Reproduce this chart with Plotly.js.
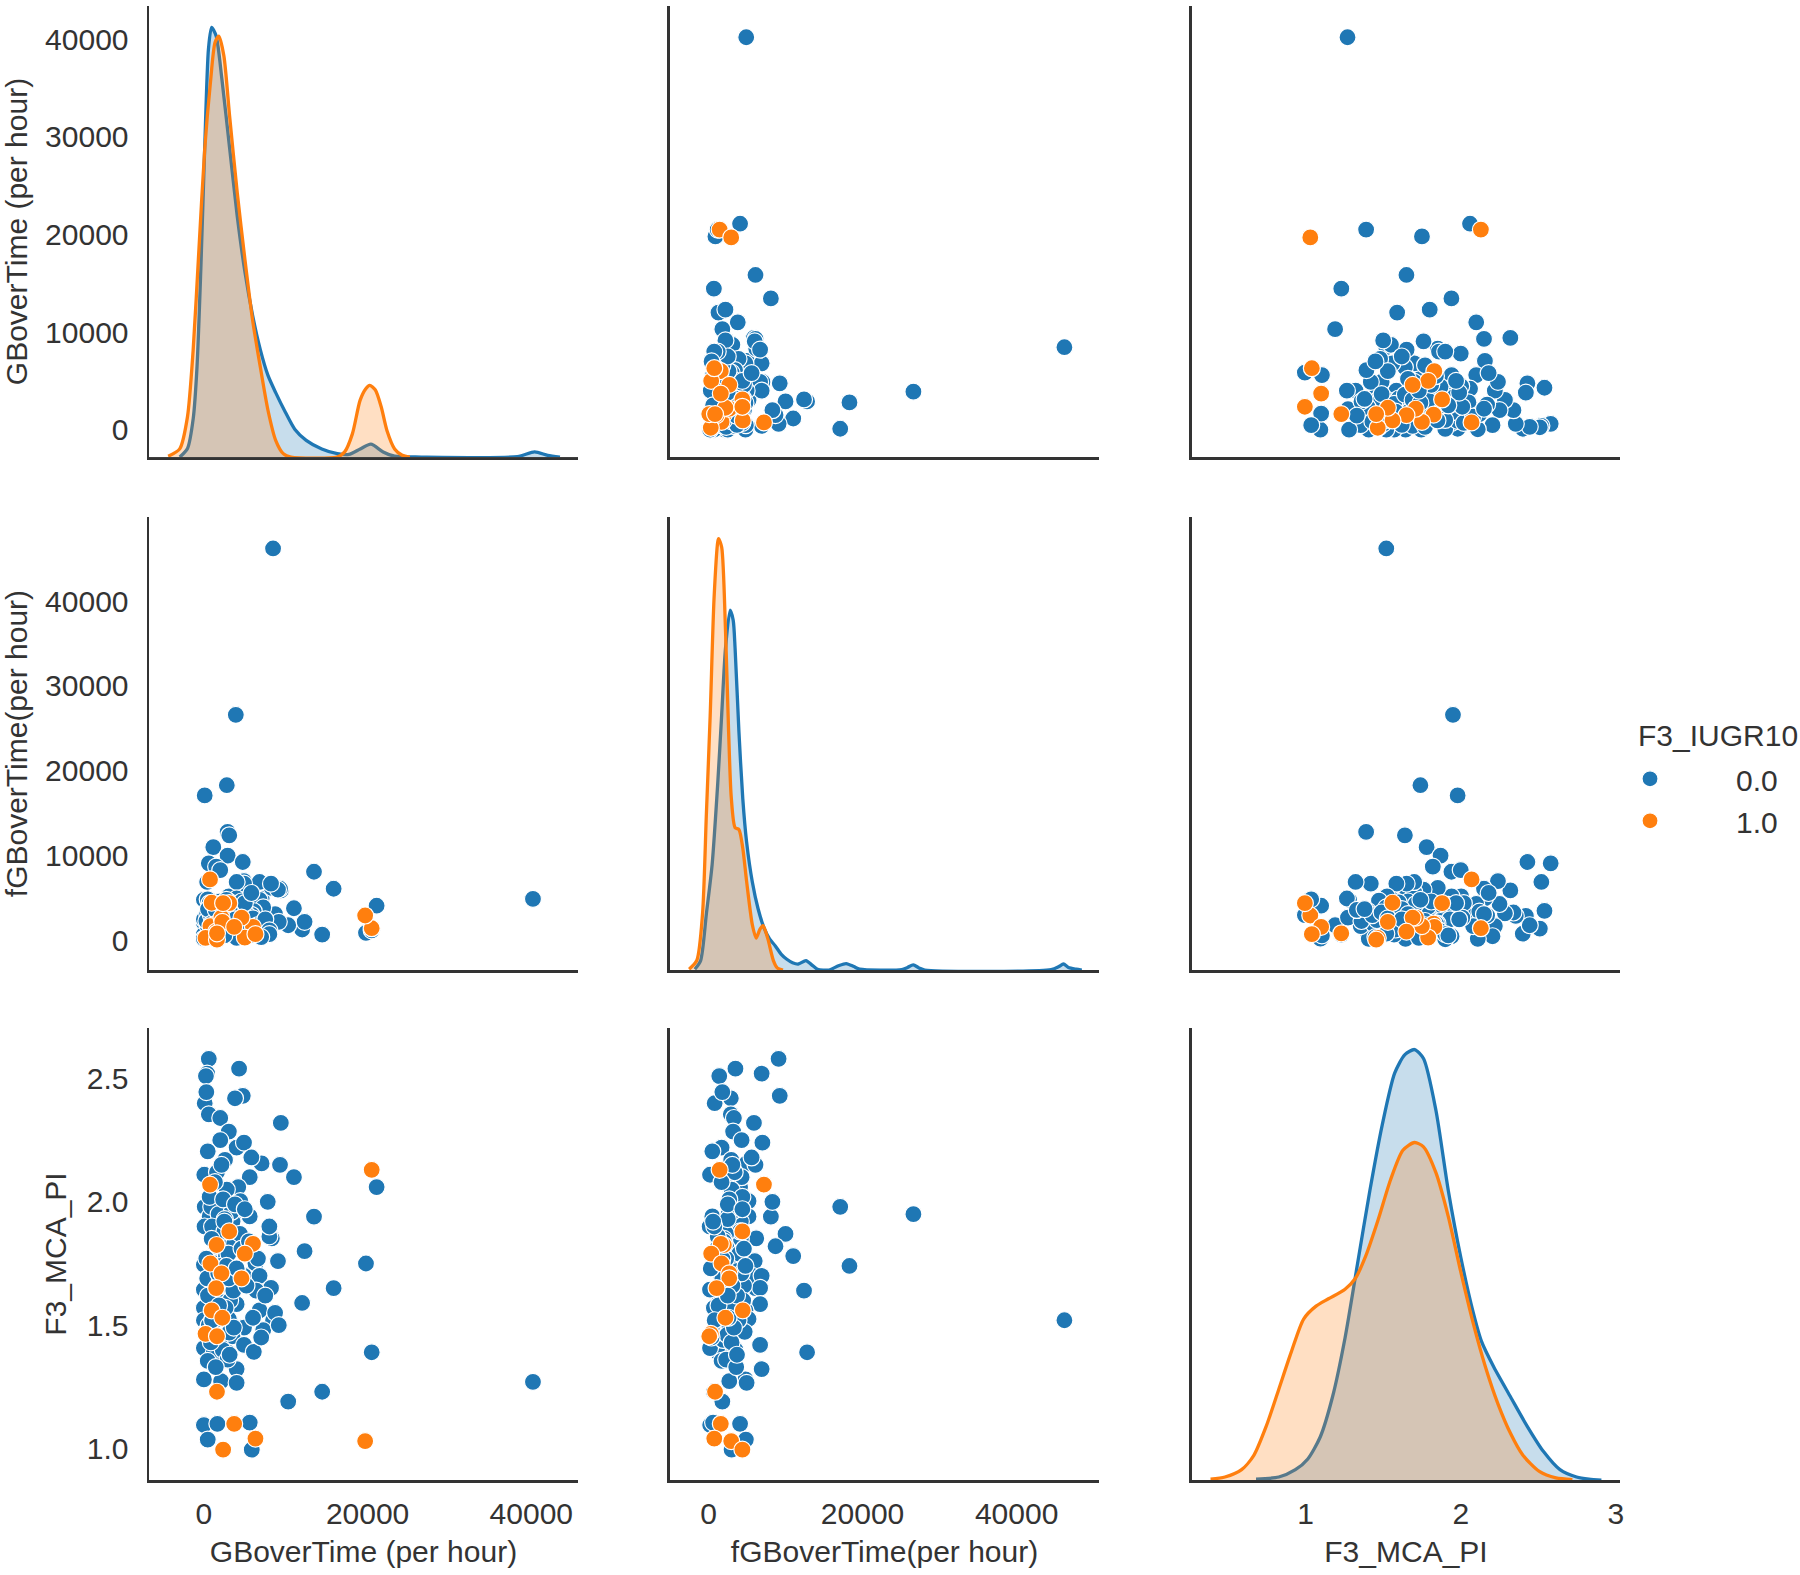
<!DOCTYPE html>
<html><head><meta charset="utf-8">
<script src="https://cdn.plot.ly/plotly-3.0.1.min.js"></script>
<style>html,body{margin:0;padding:0;background:#fff}#chart{width:1800px;height:1575px}</style>
</head><body><div id="chart"></div>
<script>
// ---------------- DATA ----------------
const varNames = ['GBoverTime (per hour)', 'fGBoverTime(per hour)', 'F3_MCA_PI'];
const hueTitle = 'F3_IUGR10';
const hueLevels = ['0.0', '1.0'];

// class 0.0 (blue)
const blueGB = [
 40200, 8450, 3900, 2800, 100, 21100, 19800, 20500, 15850, 14450,
 13450, 12000, 11000, 12300, 10300, 9400, 2900, 3100, 1150, 2900,
 4750, 600, 1500, 2000, 400, 4300, 250, 3800, 100, 300,
 600, 2000, 3050, 2000, 4000, 470, 2580, 4900, 7050, 9300,
 5600, 4200, 50, 4450, 700, 3850, 5600, 7800, 80, 1900,
 8300, 3050, 6300, 9050, 0, 1200, 4900, 6800, 8200, 0,
 3050, 6400, 0, 1900, 4000, 6800, 8700, 0, 3050, 4900,
 7250, 9150, 250, 3500, 0, 1900, 4900, 6100, 1200, 470,
 2600, 4000, 0, 2100, 4000, 0, 1650, 5600, 470, 5850,
 800, 1300, 1700, 2200, 2600, 3100, 3500, 900, 1500, 2000,
 2400, 2800, 3300, 600, 1100, 1800, 2300, 2700, 3200, 3700,
 400, 1000, 1400, 1900, 2500, 2900, 3400, 4100, 700, 1200,
 1600, 2100, 2650, 3000, 3600, 4400, 300, 850, 1350, 1750,
 2150, 2550, 3050, 3650, 4600, 500, 950, 1450, 1850, 2350,
 2750, 3150, 3800, 5200, 5500, 6000, 5000, 6600, 7500, 8000,
 5800, 8000, 7000, 4000, 2500, 1000
];
const blueFGB = [
 4900, 46200, 26600, 18300, 17100, 4100, 900, 1200, 6100, 700,
 8100, 1300, 3800, 2200, 1800, 5900, 12800, 12400, 11000, 10000,
 9250, 9100, 8700, 8300, 6900, 3500, 1400, 2900, 800, 1800,
 2900, 3300, 3200, 4300, 1700, 500, 2950, 7000, 4950, 6100,
 4300, 2700, 200, 5200, 500, 3200, 5200, 2700, 150, 2400,
 6200, 1100, 4200, 6000, 2100, 1500, 5700, 6900, 6700, 200,
 2700, 3400, 700, 3600, 6700, 4800, 3100, 2500, 5200, 4000,
 3900, 2200, 4700, 1350, 200, 2900, 6700, 3450, 3200, 1700,
 2600, 6900, 4800, 2700, 4950, 220, 4100, 600, 4850, 3000,
 2200, 2800, 3300, 2300, 3800, 2500, 4200, 3500, 1900, 4600,
 1600, 3000, 3600, 2700, 4200, 2600, 3500, 2100, 4500, 1900,
 3200, 1500, 3900, 2000, 4100, 2300, 3100, 3800, 4400, 2400,
 3400, 1700, 2900, 4000, 2800, 2300, 2300, 3000, 1700, 4300,
 3100, 2500, 1800, 3300, 4600, 3700, 2000, 3600, 1300, 2700,
 4800, 3700, 2500, 3100, 2000, 2600, 4400, 1800, 2500, 1200,
 5600, 750, 400, 300, 600, 800
];
const bluePI = [
 1.27, 1.52, 1.95, 1.74, 1.98, 2.06, 1.75, 1.39, 1.65, 1.23,
 1.94, 1.59, 2.10, 1.80, 1.19, 2.32, 1.39, 1.64, 1.78, 1.87,
 2.43, 2.58, 1.82, 2.00, 2.52, 2.54, 2.51, 2.42, 2.40, 2.445,
 2.355, 2.34, 2.285, 2.25, 2.22, 2.205, 2.17, 2.24, 2.156, 2.15,
 2.10, 2.06, 2.11, 2.003, 1.941, 1.956, 1.941, 2.00, 1.90, 1.88,
 1.852, 1.81, 1.75, 1.76, 1.745, 1.71, 1.70, 1.70, 1.651, 1.644,
 1.63, 1.64, 1.57, 1.60, 1.585, 1.56, 1.55, 1.52, 1.525, 1.49,
 1.48, 1.50, 1.473, 1.455, 1.407, 1.43, 1.42, 1.392, 1.387, 1.355,
 1.36, 1.322, 1.28, 1.273, 1.266, 1.095, 1.10, 1.105, 1.036, 0.995,
 1.62, 1.75, 1.55, 1.82, 1.68, 1.47, 1.92, 1.98, 1.44, 1.66,
 1.58, 2.05, 1.73, 1.50, 1.85, 1.95, 1.40, 1.78, 1.60, 1.83,
 1.69, 1.90, 1.52, 1.67, 1.88, 1.36, 1.96, 1.72, 2.02, 1.46,
 2.12, 1.74, 1.57, 1.79, 1.64, 1.87, 1.77, 1.43, 2.08, 1.71,
 2.15, 1.93, 1.69, 1.49, 1.81, 1.62, 1.85, 1.33, 1.58, 2.01,
 1.74, 1.38, 1.99, 1.66, 1.84, 1.53, 1.97, 1.77, 1.62, 1.86,
 2.18, 1.90, 1.45, 1.73, 1.92, 1.52
];

// class 1.0 (orange)
const orangeGB  = [20500, 19700, 750, 3100, 1550, 6000, 5000, 800, 2150, 4600, 1500, 950, 2250, 200, 1600, 1600, 3700, 6300, 2350];
const orangeFGB = [1450, 2950, 7200, 4400, 2000, 1600, 350, 1700, 2700, 2700, 1050, 4450, 2200, 300, 100, 850, 1600, 750, 4400];
const orangePI  = [2.13, 1.03, 2.07, 1.88, 1.825, 1.83, 1.79, 1.75, 1.71, 1.69, 1.65, 1.56, 1.53, 1.465, 1.455, 1.23, 1.10, 1.04, 0.995];

// density curves on the diagonal (relative density)
const kdeGBx_blue = [-2950, -2000, -1300, -840, -370, 100, 560, 940, 1500, 2200, 3140, 4080, 5020, 5950, 6890, 7830, 8770, 9940, 11100, 12500, 14400, 16300, 17700, 19100, 20400, 21900, 23300, 26600, 38300, 40400, 42000, 43500];
const kdeGBy_blue = [0, 2, 9, 21, 44, 72, 95, 100, 98, 88, 72, 56, 43, 33, 25, 19, 15, 10.5, 6.5, 3.9, 1.9, 0.8, 0.6, 1.9, 3.0, 1.2, 0.2, 0, 0.1, 1.2, 0.4, 0];
const kdeGBx_orange = [-4360, -2950, -2010, -1310, -610, 100, 800, 1360, 1830, 2440, 3140, 4080, 5020, 5950, 6890, 7830, 8770, 9700, 10640, 16270, 17200, 18140, 19080, 19780, 20250, 20950, 21660, 22360, 23300, 24230, 25170];
const kdeGBy_orange = [0.2, 1.9, 9.3, 24.9, 48.2, 71.6, 87.2, 96.5, 98, 93.4, 79.4, 61.5, 45.9, 31.9, 21, 10.9, 3.9, 0.8, 0, 0, 1.2, 5.4, 13.2, 15.9, 16.7, 15.6, 11.7, 6.2, 1.9, 0.4, 0];

const kdeFGBx_blue = [-1768, -1022, -276, 470, 1216, 1714, 2211, 2808, 3205, 3454, 3951, 4449, 4946, 5692, 6438, 7184, 7930, 8676, 9422, 10168, 10914, 11660, 12654, 13400, 14146, 15638, 16881, 17876, 18870, 19616, 25087, 25833, 26579, 27325, 28070, 44481, 45476, 46073, 46719, 47714, 48460];
const kdeFGBy_blue = [0.2, 2.2, 13, 24.4, 43.7, 59.2, 74.6, 83.4, 81.1, 74.6, 55.3, 39.8, 29.7, 20.4, 14.2, 9.9, 7.2, 5.6, 3.7, 2.5, 1.7, 1.4, 2.2, 1.2, 0.2, 0, 1.0, 1.5, 0.8, 0.2, 0.1, 0.6, 1.2, 0.5, 0, 0.1, 0.8, 1.4, 0.6, 0.2, 0];
const kdeFGBx_orange = [-2513, -1519, -773, -276, 222, 719, 1216, 1316, 1714, 2211, 2609, 2957, 3454, 3951, 4449, 4946, 5692, 6189, 6687, 7084, 7681, 8427, 8924, 9670];
const kdeFGBy_orange = [0.2, 2.2, 13, 36, 59, 86, 99.4, 100, 98, 78.7, 55.5, 40, 33, 32.6, 28.3, 20.6, 10.5, 7.4, 9.5, 10.3, 7.4, 2.2, 0.5, 0];

const kdePIx_blue = [0.68, 0.827, 0.934, 1.014, 1.094, 1.174, 1.254, 1.334, 1.414, 1.494, 1.574, 1.64, 1.702, 1.76, 1.84, 1.92, 2.0, 2.08, 2.134, 2.214, 2.32, 2.427, 2.534, 2.64, 2.747, 2.827, 2.907];
const kdePIy_blue = [0.2, 0.7, 2.4, 4.9, 10, 19.4, 33, 50.1, 67.2, 82.5, 94.5, 98.8, 100, 97.9, 85.9, 67.2, 51.8, 39, 32.2, 26.2, 19.4, 12.6, 6.6, 2.4, 0.7, 0.2, 0];
const kdePIx_orange = [0.387, 0.48, 0.587, 0.667, 0.747, 0.827, 0.907, 0.987, 1.067, 1.147, 1.254, 1.32, 1.387, 1.467, 1.547, 1.627, 1.702, 1.76, 1.84, 1.92, 2.0, 2.08, 2.16, 2.24, 2.32, 2.40, 2.507, 2.614, 2.72];
const kdePIy_orange = [0.2, 0.7, 2.4, 5.8, 12.6, 21.1, 29.7, 37.4, 40.4, 42.1, 44.3, 46.8, 52, 60.4, 69.7, 76.6, 78.4, 77.4, 71.4, 61.2, 48.4, 36.5, 26.2, 17.7, 10.9, 5.8, 2.0, 0.5, 0.1];

// axis ticks
const xTickVals = [[0, 20000, 40000], [0, 20000, 40000], [1, 2, 3]];
const xTickText = [['0', '20000', '40000'], ['0', '20000', '40000'], ['1', '2', '3']];
const yTickVals = [[0, 10000, 20000, 30000, 40000], [0, 10000, 20000, 30000, 40000], [1.0, 1.5, 2.0, 2.5]];
const yTickText = [['0', '10000', '20000', '30000', '40000'], ['0', '10000', '20000', '30000', '40000'], ['1.0', '1.5', '2.0', '2.5']];

// ---------------- LAYOUT / DRAW ----------------
const C0 = '#1f77b4', C1 = '#ff7f0e';
const F0 = 'rgba(31,119,180,0.25)', F1 = 'rgba(255,127,14,0.25)';
const FONT = '"Liberation Sans", Arial, sans-serif';
const TXT = '#333333';

const xDom = [[0.0828, 0.3211], [0.3722, 0.6106], [0.6622, 0.9000]];
const yDom = [[0.7098, 0.9962], [0.3841, 0.6717], [0.0603, 0.3473]];
const xRanges = [[-6700, 45700], [-5000, 50700], [0.267, 3.027]];
const yRanges = [[-2800, 43400], [-3480, 49900], [0.872, 2.705]];

const blueVars = [blueGB, blueFGB, bluePI];
const orangeVars = [orangeGB, orangeFGB, orangePI];
const kde = [
  [[kdeGBx_blue, kdeGBy_blue], [kdeGBx_orange, kdeGBy_orange]],
  [[kdeFGBx_blue, kdeFGBy_blue], [kdeFGBx_orange, kdeFGBy_orange]],
  [[kdePIx_blue, kdePIy_blue], [kdePIx_orange, kdePIy_orange]]
];

const layout = {
  width: 1800, height: 1575,
  margin: {l: 0, r: 0, t: 0, b: 0},
  paper_bgcolor: '#ffffff', plot_bgcolor: '#ffffff',
  font: {family: FONT, size: 30, color: TXT},
  showlegend: true,
  legend: {
    x: 0.8689, y: 0.522, xanchor: 'left', yanchor: 'top',
    font: {size: 30, color: TXT},
    itemwidth: 162, tracegroupgap: 0,
    bgcolor: 'rgba(0,0,0,0)'
  },
  annotations: [{
    text: hueTitle, xref: 'paper', yref: 'paper',
    x: 0.9089, y: 0.5327, xanchor: 'left', yanchor: 'middle',
    showarrow: false, font: {family: FONT, size: 30, color: TXT}
  }]
};
const traces = [];

function axName(prefix, k) { return prefix + (k === 1 ? '' : k); }

for (let r = 0; r < 3; r++) {
  for (let c = 0; c < 3; c++) {
    const k = r * 3 + c + 1;
    const xa = axName('xaxis', k), ya = axName('yaxis', k);
    const xr = axName('x', k), yr = axName('y', k);
    const isDiag = r === c;
    const xAx = {
      domain: xDom[c], range: xRanges[c], anchor: yr,
      showline: true, linecolor: '#333333', linewidth: 2.5,
      showgrid: false, zeroline: false, fixedrange: true,
      ticks: r === 2 ? 'outside' : '', ticklen: 5, tickcolor: 'rgba(0,0,0,0)',
      tickmode: 'array', tickvals: xTickVals[c], ticktext: xTickText[c],
      showticklabels: r === 2,
      tickfont: {family: FONT, size: 30, color: TXT}
    };
    if (r === 2) xAx.title = {text: varNames[c], font: {family: FONT, size: 30, color: TXT}, standoff: 13};
    layout[xa] = xAx;

    let yRange = yRanges[r];
    let kdeAxis = yr;
    if (isDiag) {
      const m = Math.max(...kde[r][0][1], ...kde[r][1][1]);
      const kr = [0, m * 1.05];
      if (k === 1) {
        layout['yaxis10'] = {domain: yDom[0], anchor: 'x', range: kr, visible: false,
          fixedrange: true, showgrid: false, zeroline: false};
        kdeAxis = 'y10';
        // empty placeholder so the labelled GB axis of this cell is created
        traces.push({type: 'scatter', mode: 'markers', x: [null], y: [null],
          xaxis: 'x', yaxis: 'y', showlegend: false, hoverinfo: 'skip'});
      } else {
        yRange = kr;
      }
    }
    const yAx = {
      domain: yDom[r], range: yRange, anchor: xr,
      showline: true, linecolor: '#333333', linewidth: 2.5,
      showgrid: false, zeroline: false, fixedrange: true,
      ticks: c === 0 ? 'outside' : '', ticklen: 12, tickcolor: 'rgba(0,0,0,0)',
      tickmode: 'array', tickvals: yTickVals[r], ticktext: yTickText[r],
      showticklabels: c === 0,
      tickfont: {family: FONT, size: 30, color: TXT}
    };
    if (c === 0) yAx.title = {text: varNames[r], font: {family: FONT, size: 30, color: TXT}, standoff: 12};
    layout[ya] = yAx;

    if (isDiag) {
      [[C0, F0], [C1, F1]].forEach((col, h) => {
        traces.push({
          type: 'scatter', mode: 'lines', x: kde[r][h][0], y: kde[r][h][1],
          xaxis: xr, yaxis: kdeAxis, fill: 'tozeroy', fillcolor: col[1],
          line: {color: col[0], width: 3.3, shape: 'spline', smoothing: 0.7},
          showlegend: false, hoverinfo: 'skip'
        });
      });
    } else {
      traces.push({
        type: 'scatter', mode: 'markers', x: blueVars[c], y: blueVars[r],
        xaxis: xr, yaxis: yr, name: hueLevels[0], legendgroup: 'g0',
        showlegend: k === 2,
        marker: {color: C0, size: 17, line: {color: '#ffffff', width: 1.2}}
      });
      traces.push({
        type: 'scatter', mode: 'markers', x: orangeVars[c], y: orangeVars[r],
        xaxis: xr, yaxis: yr, name: hueLevels[1], legendgroup: 'g1',
        showlegend: k === 2,
        marker: {color: C1, size: 17, line: {color: '#ffffff', width: 1.2}}
      });
    }
  }
}

Plotly.newPlot('chart', traces, layout, {staticPlot: true, displayModeBar: false});
</script>
</body></html>
